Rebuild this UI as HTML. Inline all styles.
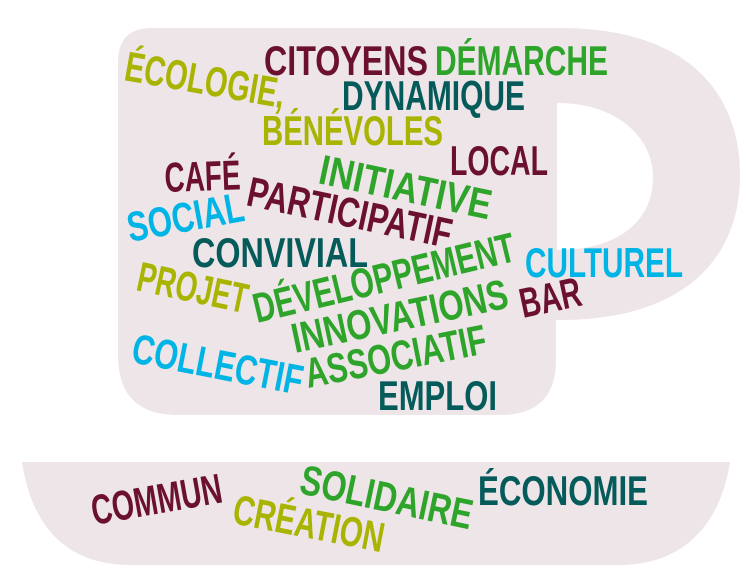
<!DOCTYPE html>
<html><head><meta charset="utf-8"><style>
html,body{margin:0;padding:0;background:#fff;}
svg{display:block;}
text{font-family:"Liberation Sans Narrow","Liberation Sans",sans-serif;font-weight:bold;}
</style></head><body>
<svg width="746" height="587" viewBox="0 0 746 587">
<path fill="#ede5e8" fill-rule="evenodd" d="M118,62 Q118,28 152,28 L560,28 C690,28 740,95 740,175 C740,262 680,320 560,320 L556,320 L556,360 Q556,415 500,415 L178,415 Q118,415 118,355 Z M557,103 C620,103 653,140 653,177 C653,220 620,250 557,250 Z"/>
<path fill="#ede5e8" d="M22,462 L730,462 C720,528 680,565 620,565 L130,565 C70,565 32,530 22,462 Z"/>
<g font-size="42">
<text x="264" y="75" fill="#6b1030" textLength="164" lengthAdjust="spacingAndGlyphs">CITOYENS</text>
<text x="435" y="75" fill="#2ea52a" textLength="173" lengthAdjust="spacingAndGlyphs">DÉMARCHE</text>
<text transform="translate(123,80) rotate(10)" fill="#a8b400" textLength="162" lengthAdjust="spacingAndGlyphs">ÉCOLOGIE,</text>
<text x="342" y="110" fill="#055a5a" textLength="183" lengthAdjust="spacingAndGlyphs">DYNAMIQUE</text>
<text x="262" y="145" fill="#a8b400" textLength="181" lengthAdjust="spacingAndGlyphs">BÉNÉVOLES</text>
<text x="450" y="175" fill="#6b1030" textLength="98" lengthAdjust="spacingAndGlyphs">LOCAL</text>
<text transform="translate(165,192) rotate(-2)" fill="#6b1030" textLength="76" lengthAdjust="spacingAndGlyphs">CAFÉ</text>
<text transform="translate(317,183) rotate(12)" fill="#2ea52a" textLength="175" lengthAdjust="spacingAndGlyphs">INITIATIVE</text>
<text transform="translate(245,205) rotate(12)" fill="#6b1030" textLength="208" lengthAdjust="spacingAndGlyphs">PARTICIPATIF</text>
<text transform="translate(130,242) rotate(-10.5)" fill="#00b4e6" textLength="118" lengthAdjust="spacingAndGlyphs">SOCIAL</text>
<text x="192" y="267" fill="#055a5a" textLength="176" lengthAdjust="spacingAndGlyphs">CONVIVIAL</text>
<text x="525" y="277" fill="#00b4e6" textLength="158" lengthAdjust="spacingAndGlyphs">CULTUREL</text>
<text transform="translate(135,290) rotate(12)" fill="#a8b400" textLength="112" lengthAdjust="spacingAndGlyphs">PROJET</text>
<text transform="translate(257,323) rotate(-13.5)" fill="#2ea52a" textLength="268" lengthAdjust="spacingAndGlyphs">DÉVELOPPEMENT</text>
<text transform="translate(295,353) rotate(-12)" fill="#2ea52a" textLength="220" lengthAdjust="spacingAndGlyphs">INNOVATIONS</text>
<text transform="translate(523,318) rotate(-12)" fill="#6b1030" textLength="62" lengthAdjust="spacingAndGlyphs">BAR</text>
<text transform="translate(130,362) rotate(11)" fill="#00b4e6" textLength="173" lengthAdjust="spacingAndGlyphs">COLLECTIF</text>
<text transform="translate(308,388) rotate(-11)" fill="#2ea52a" textLength="184" lengthAdjust="spacingAndGlyphs">ASSOCIATIF</text>
<text x="378" y="410" fill="#055a5a" textLength="119" lengthAdjust="spacingAndGlyphs">EMPLOI</text>
<text transform="translate(94,525) rotate(-10)" fill="#6b1030" textLength="132" lengthAdjust="spacingAndGlyphs">COMMUN</text>
<text transform="translate(231,523) rotate(11)" fill="#a8b400" textLength="153" lengthAdjust="spacingAndGlyphs">CRÉATION</text>
<text transform="translate(298,493) rotate(12)" fill="#2ea52a" textLength="175" lengthAdjust="spacingAndGlyphs">SOLIDAIRE</text>
<text x="478" y="505" fill="#055a5a" textLength="170" lengthAdjust="spacingAndGlyphs">ÉCONOMIE</text>
</g>
</svg>
</body></html>
